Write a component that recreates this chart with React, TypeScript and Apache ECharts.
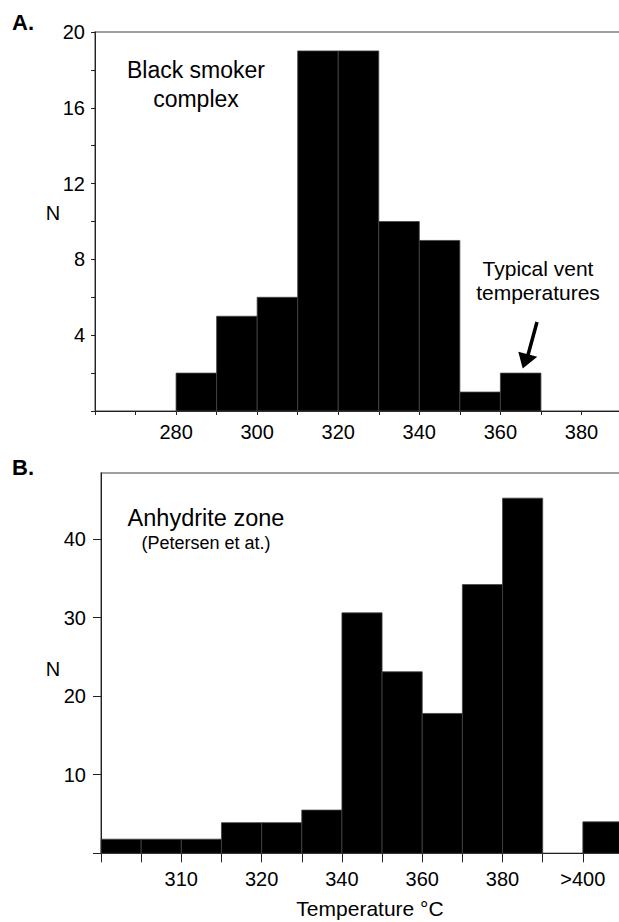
import React, { useEffect, useRef } from "react";
import * as echarts from "echarts";

// ---- Panel A: black smoker complex (bins of 10 °C) ----
const topBinStart = [280, 290, 300, 310, 320, 330, 340, 350, 360];
const topCounts = [2, 5, 6, 19, 19, 10, 9, 1, 2];
const topBinWidth = 10;
const topXLabels = [280, 300, 320, 340, 360, 380];
const topYLabels = [4, 8, 12, 16, 20];

// ---- Panel B: anhydrite zone (ordered bins, one slot per bin) ----
const bottomBins = [
  "300-305", "305-310", "310-315", "315-320", "320-330", "330-340",
  "340-350", "350-360", "360-370", "370-380", "380-390", "390-400", ">400",
];
const bottomCounts = [1.8, 1.8, 1.8, 3.9, 3.9, 5.5, 30.6, 23.1, 17.8, 34.2, 45.2, 0, 4.0];
const bottomTickIndex = [2, 4, 6, 8, 10, 12];
const bottomTickText = ["310", "320", "340", "360", "380", ">400"];
const bottomYTicks = [0, 10, 20, 30, 40];
const bottomYLabels = [10, 20, 30, 40];

const FONT = "'Liberation Sans', Arial, Helvetica, sans-serif";

function renderBar(params: any, api: any) {
  const x0 = api.value(0);
  const x1 = api.value(1);
  const v = api.value(2);
  if (!v) return null;
  const a = api.coord([x0, 0]);
  const b = api.coord([x1, v]);
  return {
    type: "rect",
    shape: { x: a[0], y: b[1], width: b[0] - a[0], height: a[1] - b[1] },
    style: { fill: "#000", stroke: "#444", lineWidth: 0.8 },
  };
}

export default function App() {
  const ref = useRef<HTMLDivElement>(null);
  useEffect(() => {
    if (!ref.current) return;
    const chart = echarts.init(ref.current, undefined, { renderer: "svg" });
    const axisColor = "#222";
    const labelStyle = { color: "#000", fontSize: 20, fontFamily: FONT };
    chart.setOption({
      animation: false,
      backgroundColor: "#fff",
      grid: [
        { left: 95, top: 32, width: 527, height: 379, show: true, borderColor: "#808080", borderWidth: 1.5, containLabel: false, outerBoundsMode: "none" },
        { left: 101, top: 473, width: 522, height: 380.3, show: true, borderColor: "#808080", borderWidth: 1.5, containLabel: false, outerBoundsMode: "none" },
      ],
      xAxis: [
        {
          type: "value", gridIndex: 0, min: 260, max: 390, interval: 10,
          axisLine: { show: true, onZero: false, lineStyle: { color: axisColor, width: 1 } },
          axisTick: { show: true, length: 4, lineStyle: { color: axisColor } },
          axisLabel: {
            ...labelStyle, margin: 11,
            formatter: (v: number) => (topXLabels.includes(v) ? String(v) : ""),
          },
          splitLine: { show: false },
        },
        {
          type: "value", gridIndex: 1, min: 0, max: bottomBins.length, interval: 1,
          axisLine: { show: true, onZero: false, lineStyle: { color: axisColor, width: 1 } },
          axisTick: { show: true, length: 9, lineStyle: { color: axisColor } },
          axisLabel: {
            ...labelStyle, margin: 16,
            formatter: (v: number) => {
              const i = bottomTickIndex.indexOf(v);
              return i >= 0 ? bottomTickText[i] : "";
            },
          },
          splitLine: { show: false },
        },
      ],
      yAxis: [
        {
          type: "value", gridIndex: 0, min: 0, max: 20, interval: 2,
          axisLine: { show: true, lineStyle: { color: axisColor, width: 1 } },
          axisTick: { show: true, length: 4, lineStyle: { color: axisColor } },
          axisLabel: {
            ...labelStyle, margin: 10,
            formatter: (v: number) => (topYLabels.includes(v) ? String(v) : ""),
          },
          splitLine: { show: false },
        },
        {
          type: "value", gridIndex: 1, min: 0, max: 48.4, interval: 10,
          axisLine: { show: true, lineStyle: { color: axisColor, width: 1 } },
          axisTick: { show: true, length: 8, customValues: bottomYTicks, lineStyle: { color: axisColor } },
          axisLabel: { ...labelStyle, margin: 15, customValues: bottomYLabels },
          splitLine: { show: false },
        },
      ],
      series: [
        {
          type: "custom", xAxisIndex: 0, yAxisIndex: 0,
          data: topBinStart.map((s, i) => [s, s + topBinWidth, topCounts[i]]),
          encode: { x: [0, 1], y: 2 },
          renderItem: renderBar,
        },
        {
          type: "custom", xAxisIndex: 1, yAxisIndex: 1,
          data: bottomCounts.map((c, i) => [i, i + 1, c]),
          encode: { x: [0, 1], y: 2 },
          renderItem: renderBar,
        },
      ],
      graphic: [
        { type: "text", x: 12, y: 22, style: { text: "A.", font: `bold 22px ${FONT}`, fill: "#000", textVerticalAlign: "middle" } },
        { type: "text", x: 12, y: 467, style: { text: "B.", font: `bold 22px ${FONT}`, fill: "#000", textVerticalAlign: "middle" } },
        { type: "text", x: 53, y: 213, style: { text: "N", font: `20px ${FONT}`, fill: "#000", textAlign: "center", textVerticalAlign: "middle" } },
        { type: "text", x: 53, y: 669, style: { text: "N", font: `20px ${FONT}`, fill: "#000", textAlign: "center", textVerticalAlign: "middle" } },
        { type: "text", x: 196, y: 70, style: { text: "Black smoker", font: `23px ${FONT}`, fill: "#000", textAlign: "center", textVerticalAlign: "middle" } },
        { type: "text", x: 196, y: 99, style: { text: "complex", font: `23px ${FONT}`, fill: "#000", textAlign: "center", textVerticalAlign: "middle" } },
        { type: "text", x: 538, y: 268, style: { text: "Typical vent", font: `21px ${FONT}`, fill: "#000", textAlign: "center", textVerticalAlign: "middle" } },
        { type: "text", x: 538, y: 292, style: { text: "temperatures", font: `21px ${FONT}`, fill: "#000", textAlign: "center", textVerticalAlign: "middle" } },
        { type: "line", shape: { x1: 537, y1: 322, x2: 528, y2: 355 }, style: { stroke: "#000", lineWidth: 3.5 } },
        { type: "polygon", shape: { points: [[518.3, 351.7], [537.3, 356.7], [522.7, 368.5]] }, style: { fill: "#000" } },
        { type: "text", x: 206, y: 518, style: { text: "Anhydrite zone", font: `23.5px ${FONT}`, fill: "#000", textAlign: "center", textVerticalAlign: "middle" } },
        { type: "text", x: 206, y: 543, style: { text: "(Petersen et at.)", font: `18px ${FONT}`, fill: "#000", textAlign: "center", textVerticalAlign: "middle" } },
        { type: "text", x: 370, y: 908, style: { text: "Temperature °C", font: `21px ${FONT}`, fill: "#000", textAlign: "center", textVerticalAlign: "middle" } },
      ],
    });
    return () => chart.dispose();
  }, []);
  return (
    <div
      ref={ref}
      style={{ position: "fixed", left: 0, top: 0, width: 619, height: 922, background: "#fff" }}
    />
  );
}
